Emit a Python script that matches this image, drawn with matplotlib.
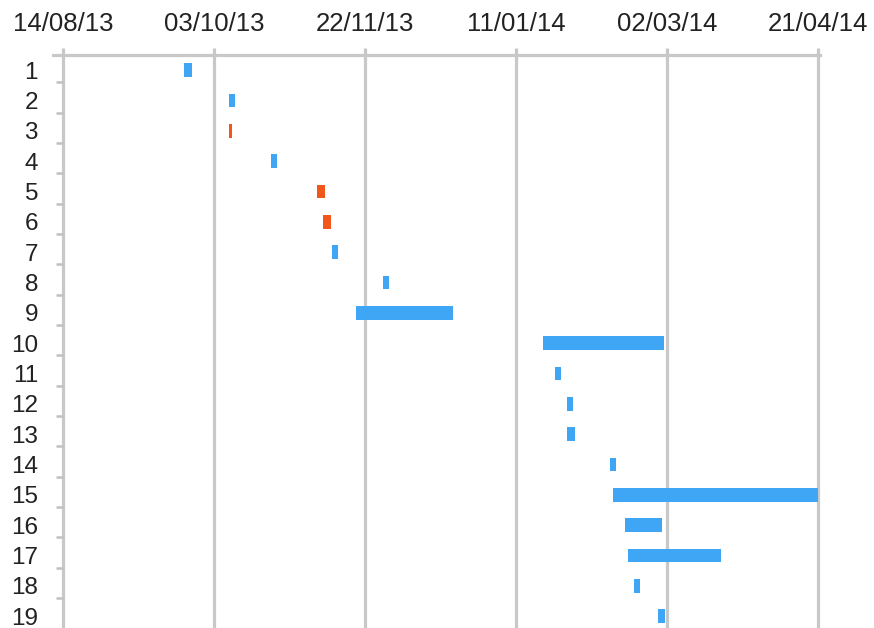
import matplotlib
matplotlib.use("Agg")
import matplotlib.pyplot as plt
import matplotlib.dates as mdates
import matplotlib.ticker as mticker
import numpy as np
import pandas as pd

# task data (row number, start date, duration in days, colour group)
tasks = list(range(1, 20))
starts = ["2013-09-23", "2013-10-08", "2013-10-08", "2013-10-22", "2013-11-06",
          "2013-11-08", "2013-11-11", "2013-11-28", "2013-11-19", "2014-01-20",
          "2014-01-24", "2014-01-28", "2014-01-28", "2014-02-11", "2014-02-12",
          "2014-02-16", "2014-02-17", "2014-02-19", "2014-02-27"]
durations = [2.7, 2.0, 0.8, 2.0, 2.8, 2.6, 2.0, 2.0, 32.0, 40.0,
             2.0, 2.0, 2.4, 2.2, 68.0, 12.3, 31.0, 2.0, 2.3]
kinds = ["b", "b", "o", "b", "o", "o", "b", "b", "b", "b",
         "b", "b", "b", "b", "b", "b", "b", "b", "b"]
tick_dates = ["2013-08-14", "2013-10-03", "2013-11-22",
              "2014-01-11", "2014-03-02", "2014-04-21"]

BLUE = "#3ea6f5"
ORANGE = "#f2561a"
GRID = "#c8c8c8"

plt.rcParams['font.family'] = ['Liberation Sans', 'DejaVu Sans']

left = mdates.date2num(pd.to_datetime(starts))
ticks = mdates.date2num(pd.to_datetime(tick_dates))
colors = [ORANGE if k == "o" else BLUE for k in kinds]

fig = plt.figure(figsize=(8.74, 6.28), dpi=100)
ax = fig.add_axes([63/874, 0, (818-63)/874, 1 - 55/628])

ax.barh(tasks, durations, left=left, height=0.45, color=colors, zorder=3)

# vertical grid lines at every date tick
for t in ticks:
    ax.axvline(t, color=GRID, lw=2.3, zorder=1, clip_on=False)

ax.set_xlim(ticks[0], ticks[-1])
ax.set_ylim(19.39, 0.5)

ax.xaxis.tick_top()
ax.set_xticks(ticks)
ax.xaxis.set_major_formatter(mdates.DateFormatter("%d/%m/%y"))
ax.tick_params(axis="x", which="major", direction="out", length=5, width=2.3,
               color=GRID, pad=8.5, labelsize=18.5, labelcolor="#222222")

ax.set_yticks(tasks)
ax.yaxis.set_minor_locator(mticker.FixedLocator(np.array(tasks) + 0.4))
ax.tick_params(axis="y", which="major", length=0, pad=18, labelsize=17.5,
               labelcolor="#222222")
ax.tick_params(axis="y", which="minor", length=5, width=1.8, color="#c0c0c0")

for s in ["left", "right", "bottom"]:
    ax.spines[s].set_visible(False)
ax.spines["top"].set_color(GRID)
ax.spines["top"].set_linewidth(2.3)
ax.spines["top"].set_bounds(ticks[0] - 3.3, ticks[-1] + 0.5)

fig.savefig("out.png", dpi=100)
